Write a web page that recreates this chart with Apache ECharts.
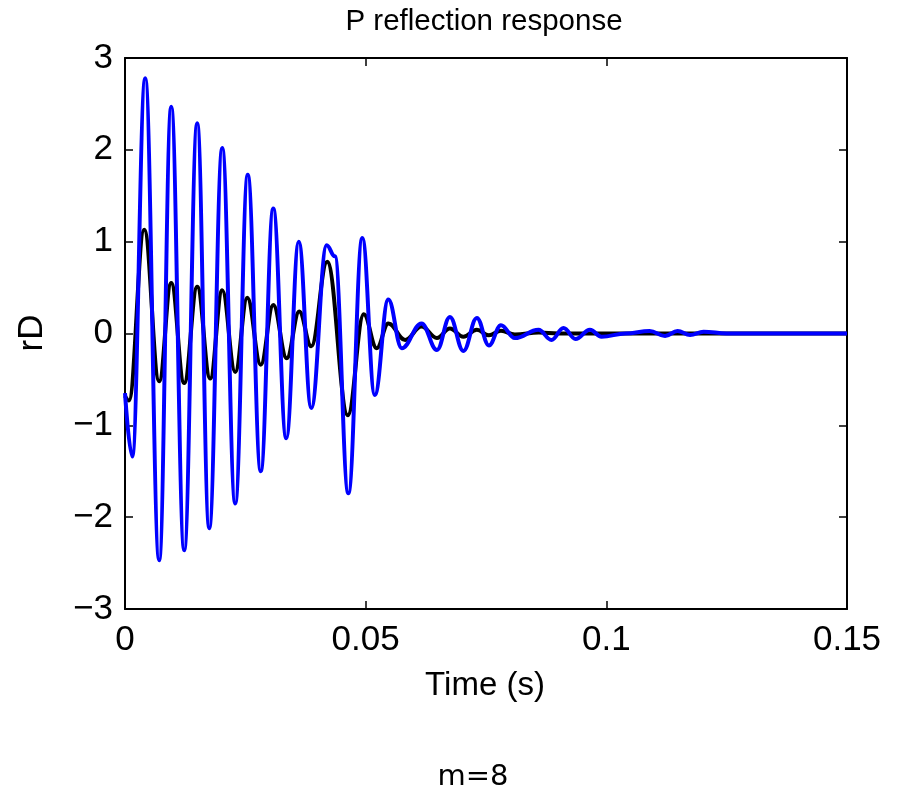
<!DOCTYPE html>
<html>
<head>
<meta charset="utf-8">
<script src="https://cdn.jsdelivr.net/npm/echarts@6/dist/echarts.min.js"></script>
<style>html,body{margin:0;padding:0;background:#fff}#c{width:903px;height:793px}</style>
</head>
<body>
<div id="c"></div>
<script>
// Time axis ticks
var xTicks = [0, 0.05, 0.1, 0.15];
var yTicks = [-3, -2, -1, 0, 1, 2, 3];

// Black curve (times in s, rD values) - extrema
var blackT = [0, 0.0008, 0.0040, 0.0071, 0.0096, 0.0123, 0.0150, 0.0177, 0.0202, 0.0229, 0.0254, 0.0282, 0.0308, 0.0336, 0.0362, 0.0387, 0.0420, 0.0463, 0.0496, 0.0523, 0.0547, 0.0582, 0.0616, 0.0648, 0.0675, 0.0703, 0.0731, 0.0756, 0.0781, 0.0810, 0.0860, 0.0900, 0.1000, 0.1500];
var blackV = [-0.68, -0.73, 1.13, -0.52, 0.55, -0.54, 0.51, -0.49, 0.47, -0.42, 0.39, -0.34, 0.31, -0.27, 0.24, -0.14, 0.78, -0.89, 0.21, -0.16, 0.11, -0.07, 0.075, -0.05, 0.055, -0.035, 0.04, -0.02, 0.03, -0.01, 0.01, 0.0, 0.0, 0.0];

// Blue curve
var blueT = [0, 0.0015, 0.0042, 0.0071, 0.0096, 0.0123, 0.0150, 0.0175, 0.0202, 0.0229, 0.0255, 0.0282, 0.0308, 0.0335, 0.0361, 0.0387, 0.0419, 0.0436, 0.0464, 0.0493, 0.0519, 0.0547, 0.0575, 0.0616, 0.0648, 0.0675, 0.0703, 0.0731, 0.0756, 0.0781, 0.0810, 0.0859, 0.0886, 0.0911, 0.0936, 0.0966, 0.0990, 0.1040, 0.1090, 0.1122, 0.1148, 0.1174, 0.1202, 0.1250, 0.1500];
var blueV = [-0.65, -1.34, 2.78, -2.47, 2.47, -2.36, 2.29, -2.12, 2.02, -1.85, 1.73, -1.50, 1.36, -1.14, 1.00, -0.81, 0.96, 0.84, -1.74, 1.04, -0.67, 0.37, -0.16, 0.11, -0.18, 0.18, -0.19, 0.17, -0.13, 0.09, -0.05, 0.04, -0.07, 0.06, -0.06, 0.04, -0.035, 0.0, 0.027, -0.027, 0.027, -0.016, 0.02, 0.0, 0.0];

var titleText = 'P reflection response';
var xName = 'Time (s)';
var yName = 'rD';
var footText = 'm=8';

function pairs(t, v) { return t.map(function (x, i) { return [x, v[i]]; }); }

var FONT = '"Liberation Sans", Arial, Helvetica, sans-serif';
var chart = echarts.init(document.getElementById('c'), null, { renderer: 'canvas' });

var axisLine = { show: true, onZero: false, lineStyle: { color: '#000', width: 2 } };
var tick = { show: true, inside: true, length: 8, lineStyle: { color: '#000', width: 1.5 } };

chart.setOption({
  animation: false,
  backgroundColor: '#fff',
  grid: { left: 125, right: 56, top: 58, bottom: 184, containLabel: false },
  xAxis: [{
    type: 'value', min: 0, max: 0.15, interval: 0.05, position: 'bottom',
    axisLine: axisLine, axisTick: tick, splitLine: { show: false },
    axisLabel: { margin: 14, color: '#000', fontSize: 35, fontFamily: FONT,
      formatter: function (v) { return String(+v.toFixed(2)); } }
  }, {
    type: 'value', min: 0, max: 0.15, interval: 0.05, position: 'top',
    axisLine: axisLine, axisTick: tick, splitLine: { show: false }, axisLabel: { show: false }
  }],
  yAxis: [{
    type: 'value', min: -3, max: 3, interval: 1, position: 'left',
    axisLine: axisLine, axisTick: tick, splitLine: { show: false },
    axisLabel: { margin: 12, color: '#000', fontSize: 35, fontFamily: FONT,
      formatter: function (v) { return String(v).replace('-', '\u2212'); } }
  }, {
    type: 'value', min: -3, max: 3, interval: 1, position: 'right',
    axisLine: axisLine, axisTick: tick, splitLine: { show: false }, axisLabel: { show: false }
  }],
  series: [{
    type: 'line', data: pairs(blackT, blackV), showSymbol: false,
    smooth: 0.4, smoothMonotone: 'x',
    lineStyle: { color: '#000', width: 4 }, z: 2
  }, {
    type: 'line', data: pairs(blueT, blueV), showSymbol: false,
    smooth: 0.4, smoothMonotone: 'x',
    lineStyle: { color: '#0000ff', width: 4 }, z: 3
  }],
  graphic: [
    { type: 'text', x: 484, y: 22, style: { text: titleText, font: '29.5px ' + FONT, fill: '#000', textAlign: 'center', textVerticalAlign: 'middle' } },
    { type: 'text', x: 485, y: 686, style: { text: xName, font: '33px ' + FONT, fill: '#000', textAlign: 'center', textVerticalAlign: 'middle' } },
    { type: 'text', x: 32, y: 333, rotation: Math.PI / 2, style: { text: yName, font: '35px ' + FONT, fill: '#000', textAlign: 'center', textVerticalAlign: 'middle' } },
    { type: 'text', x: 473, y: 777, style: { text: footText, font: '29px "DejaVu Sans", sans-serif', fill: '#000', textAlign: 'center', textVerticalAlign: 'middle' } }
  ]
});
</script>
</body>
</html>
